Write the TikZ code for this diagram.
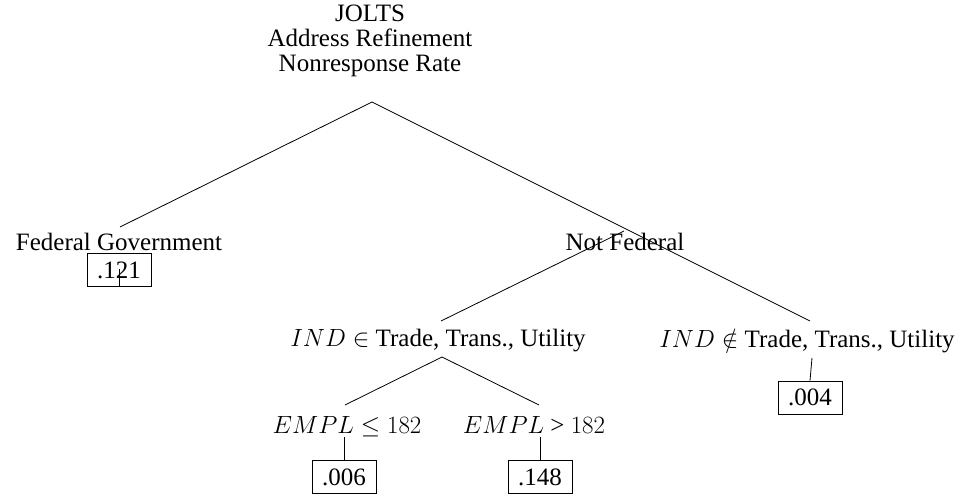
\documentclass[tikz,border=0pt]{standalone}
\usepackage{fontspec}
\setmainfont{Liberation Serif}
\begin{document}
\begin{tikzpicture}[x=1pt,y=-1pt,
  every node/.style={inner sep=0pt,font=\fontsize{25}{25}\selectfont},
  lbl/.style={anchor=base},
  leaf/.style={draw,line width=0.8pt,minimum width=64pt,minimum height=33pt},
  edge/.style={line width=0.8pt}]
\useasboundingbox (0,0) rectangle (967,499);
\node[anchor=north,align=center] (root) at (370,4.5) {JOLTS\\Address Refinement\\Nonresponse Rate};
\node[lbl] (fed) at (119,250) {Federal Government};
\node[lbl] (notfed) at (625,250) {Not Federal};
\node[lbl] (ind) at (438,346) {$IND \in$ Trade, Trans., Utility};
\node[lbl] (nind) at (807,347) {$IND \notin$ Trade, Trans., Utility};
\node[lbl] (le) at (347,433) {$EMPL \leq 182$};
\node[lbl] (gt) at (534,433) {$EMPL$ > $182$};
\node[leaf] (l121) at (119,270) {.121};
\node[leaf] (l004) at (810,397.5) {.004};
\node[leaf] (l006) at (344,477) {.006};
\node[leaf] (l148) at (540,477) {.148};
\coordinate (rootS) at (372,102);
\coordinate (fedN) at (120,227);
\coordinate (fedS) at (119,269);
\coordinate (notfedC) at (624,231);
\coordinate (indN) at (441,321);
\coordinate (indS) at (442,357);
\coordinate (nindN) at (810,321);
\coordinate (nindS) at (812,358);
\coordinate (leN) at (345,405);
\coordinate (leS) at (344,437);
\coordinate (gtN) at (539,405);
\coordinate (gtS) at (540,437);
\draw[edge] (rootS) -- (fedN);
\draw[edge] (rootS) -- (nindN);
\draw[edge] (fedS) -- (l121.south);
\draw[edge] (indN) -- (notfedC);
\draw[edge] (indS) -- (leN);
\draw[edge] (indS) -- (gtN);
\draw[edge] (leS) -- (l006.north);
\draw[edge] (gtS) -- (l148.north);
\draw[edge] (nindS) -- (l004.north);
\end{tikzpicture}
\end{document}
